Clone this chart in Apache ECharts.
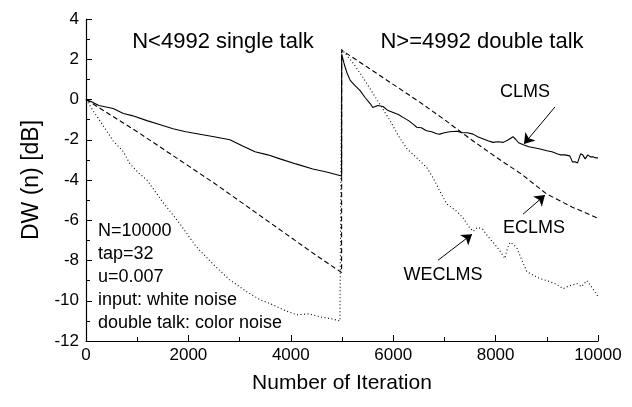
<!DOCTYPE html>
<html>
<head>
<meta charset="utf-8">
<script src="https://cdn.jsdelivr.net/npm/echarts@6/dist/echarts.min.js"></script>
<style>html,body{margin:0;padding:0;background:#fff}#c{width:632px;height:407px}</style>
</head>
<body>
<div id="c"></div>
<script>
// ---- data ----
const clmsX = [0,100,250,530,730,900,1190,1450,1700,1950,2170,2500,2810,3050,3300,3550,3790,4100,4430,4700,4992,
  4994,5050,5100,5160,5250,5350,5450,5550,5600,5700,5800,5900,6000,6100,6200,6300,6400,6460,6550,6650,6750,6850,6910,7000,7100,7240,7350,7450,7560,7650,7750,7850,7950,8050,8150,8250,8340,8400,8450,8540,8650,8750,8850,9000,9100,9200,9260,9350,9450,9500,9560,9600,9660,9700,9750,9800,9850,9900,9950,10000];
const clmsY = [0,-0.1,-0.3,-0.45,-0.7,-0.8,-1.05,-1.25,-1.45,-1.6,-1.7,-1.85,-2.0,-2.3,-2.6,-2.75,-2.95,-3.2,-3.45,-3.6,-3.8,
  2.25,1.7,1.3,0.95,0.7,0.45,0.1,-0.2,-0.4,-0.3,-0.35,-0.55,-0.65,-0.75,-0.9,-1.05,-1.25,-1.38,-1.4,-1.55,-1.6,-1.7,-1.72,-1.65,-1.6,-1.58,-1.65,-1.65,-1.72,-1.85,-1.95,-2.05,-2.13,-2.1,-2.13,-2.0,-1.85,-2.0,-2.15,-2.25,-2.35,-2.4,-2.45,-2.55,-2.6,-2.7,-2.75,-2.75,-2.8,-3.1,-3.1,-3.15,-2.7,-2.75,-2.95,-2.75,-2.85,-2.85,-2.9,-2.9];

const eclmsX = [0,500,1000,1500,2000,2500,3000,3500,4000,4500,4992,
  4994,5500,6000,6500,7000,7500,8000,8500,9000,9500,10000];
const eclmsY = [0,-0.8,-1.6,-2.45,-3.3,-4.15,-5.05,-5.95,-6.85,-7.75,-8.6,
  2.45,1.6,0.75,-0.1,-1.0,-1.95,-2.85,-3.7,-4.7,-5.35,-5.9];

const weclmsX = [0,150,270,530,730,860,1050,1190,1500,1840,2150,2490,2800,3140,3400,3650,3900,4120,4350,4570,4800,4960,4992,
  4994,5220,5410,5680,5940,6100,6270,6460,6660,6780,6900,7050,7240,7370,7470,7560,7650,7750,7850,7950,8080,8180,8230,8280,8350,8420,8500,8610,8750,8870,9060,9200,9320,9450,9590,9680,9780,9900,10000];
const weclmsY = [0,-0.6,-1.05,-2.05,-2.6,-3.2,-3.7,-4.0,-5.1,-6.2,-7.3,-8.2,-8.95,-9.55,-9.95,-10.2,-10.5,-10.7,-10.65,-10.8,-10.9,-11.0,-11.0,
  2.5,1.8,1.1,0.0,-1.05,-1.8,-2.45,-2.9,-3.4,-3.9,-4.5,-5.2,-5.55,-5.9,-6.3,-6.55,-6.35,-6.45,-6.8,-7.1,-7.5,-7.9,-7.4,-7.1,-7.2,-7.4,-7.9,-8.55,-8.75,-8.9,-9.05,-9.2,-9.4,-9.25,-9.15,-9.3,-9.0,-9.4,-9.8];

const xTicks = [0,2000,4000,6000,8000,10000];
const yTicks = [4,2,0,-2,-4,-6,-8,-10,-12];

// annotation arrows [fromX, fromY, toX, toY]
const arrowClms = [9160,-0.37,8555,-2.21];
const arrowEclms = [8535,-5.7,8965,-4.75];
const arrowWeclms = [6875,-7.99,7540,-6.69];

const params = ['N=10000','tap=32','u=0.007','input: white noise','double talk: color noise'];

// ---- chart ----
const FONT = '"Liberation Sans", Arial, sans-serif';
const pairs = (xs, ys) => xs.map((x,i)=>[x, ys[i]]);
const arrow = a => [{coord:[a[0],a[1]]},{coord:[a[2],a[3]]}];

const chart = echarts.init(document.getElementById('c'), null, {renderer:'canvas'});
const option = {
  animation:false,
  backgroundColor:'#fff',
  grid:{left:86,right:34,top:19,bottom:66},
  xAxis:{
    type:'value',min:0,max:10000,interval:2000,
    name:'Number of Iteration',nameLocation:'middle',nameGap:32,
    nameTextStyle:{fontFamily:FONT,fontSize:21,color:'#000'},
    axisLine:{onZero:false,lineStyle:{color:'#000',width:1.2}},
    axisTick:{inside:true,length:6,lineStyle:{color:'#000'}},
    minorTick:{show:true,splitNumber:2,length:4,lineStyle:{color:'#000'}},
    axisLabel:{fontFamily:FONT,fontSize:17,color:'#000',margin:6,
      formatter:v=>xTicks.includes(v)?String(v):''},
    splitLine:{show:false}
  },
  yAxis:{
    type:'value',min:-12,max:4,interval:2,
    name:'DW (n) [dB]',nameLocation:'middle',nameGap:35,
    nameTextStyle:{fontFamily:FONT,fontSize:23,color:'#000'},
    axisLine:{show:true,onZero:false,lineStyle:{color:'#000',width:1.2}},
    axisTick:{show:true,inside:true,length:6,lineStyle:{color:'#000'}},
    minorTick:{show:true,splitNumber:2,length:4,lineStyle:{color:'#000'}},
    axisLabel:{fontFamily:FONT,fontSize:17,color:'#000',margin:7,
      formatter:v=>yTicks.includes(v)?String(v):''},
    splitLine:{show:false}
  },
  series:[
    {name:'CLMS',type:'line',data:pairs(clmsX,clmsY),showSymbol:false,
      lineStyle:{color:'#000',width:1.1,type:'solid'},
      markLine:{silent:true,symbol:['none','arrow'],symbolSize:10,
        label:{show:false},itemStyle:{color:'#000'},
        lineStyle:{color:'#000',width:1,type:'solid'},
        data:[arrow(arrowClms),arrow(arrowEclms),arrow(arrowWeclms)]}},
    {name:'ECLMS',type:'line',data:pairs(eclmsX,eclmsY),showSymbol:false,
      lineStyle:{color:'#000',width:1.1,type:[5,3]}},
    {name:'WECLMS',type:'line',data:pairs(weclmsX,weclmsY),showSymbol:false,
      lineStyle:{color:'#000',width:1.1,type:[1,2.5]}}
  ],
  graphic:[
    {type:'text',x:223,y:42,style:{text:'N<4992 single talk',font:'22px '+FONT,fill:'#000',textAlign:'center',textVerticalAlign:'middle'}},
    {type:'text',x:482,y:42,style:{text:'N>=4992 double talk',font:'22px '+FONT,fill:'#000',textAlign:'center',textVerticalAlign:'middle'}},
    {type:'text',x:525,y:92,style:{text:'CLMS',font:'18px '+FONT,fill:'#000',textAlign:'center',textVerticalAlign:'middle'}},
    {type:'text',x:534,y:228,style:{text:'ECLMS',font:'18px '+FONT,fill:'#000',textAlign:'center',textVerticalAlign:'middle'}},
    {type:'text',x:443,y:275,style:{text:'WECLMS',font:'18px '+FONT,fill:'#000',textAlign:'center',textVerticalAlign:'middle'}}
  ].concat(params.map((t,i)=>({type:'text',x:98,y:231+i*23,
    style:{text:t,font:'18px '+FONT,fill:'#000',textAlign:'left',textVerticalAlign:'middle'}})))
};
chart.setOption(option);
</script>
</body>
</html>
